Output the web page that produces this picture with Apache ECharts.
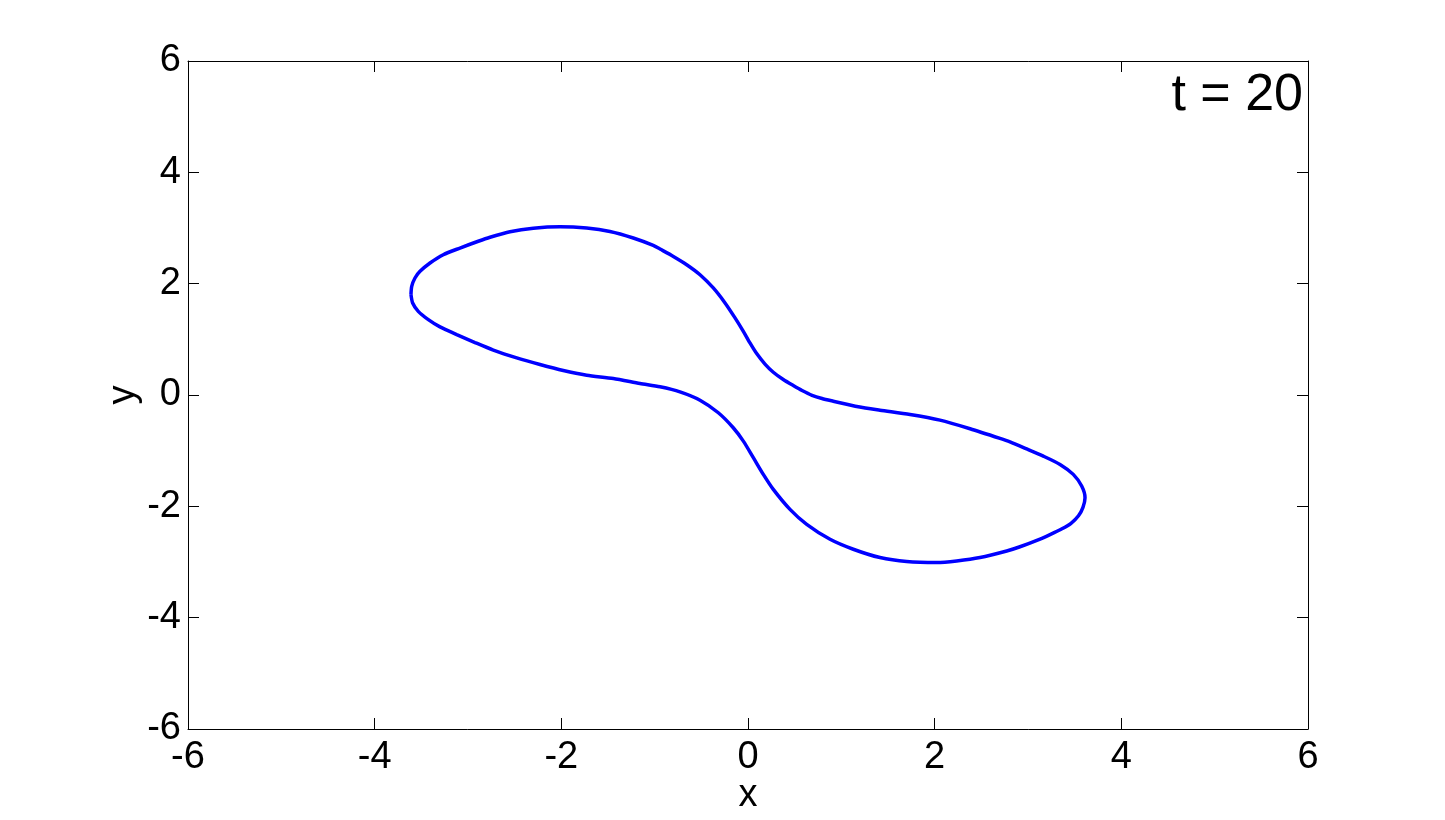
<!DOCTYPE html>
<html>
<head>
<meta charset="utf-8">
<title>t = 20</title>
<script src="https://cdn.jsdelivr.net/npm/echarts@6/dist/echarts.min.js"></script>
<style>
  html, body { margin: 0; padding: 0; background: #fff; }
  #chart { width: 1445px; height: 820px; }
</style>
</head>
<body>
<div id="chart"></div>
<script>
// curve, going clockwise from the leftmost point
const curveX = [
  -3.611, -3.603, -3.568, -3.514, -3.407, -3.265, -3.086, -2.890, -2.764, -2.550,
  -2.300, -2.014, -1.728, -1.479, -1.229, -1.015, -0.943, -0.800, -0.657, -0.514,
  -0.372, -0.246, -0.139, -0.050, 0.021, 0.093, 0.182, 0.271, 0.378, 0.485,
  0.579, 0.686, 0.793, 0.914, 1.182, 1.414, 1.736, 2.057, 2.379, 2.700,
  2.807, 2.986, 3.164, 3.343, 3.485, 3.575, 3.611, 3.589, 3.541, 3.461,
  3.364, 3.236, 3.129, 2.914, 2.772, 2.486, 2.236, 2.022, 1.700, 1.414,
  1.128, 0.879, 0.629, 0.450, 0.271, 0.164, 0.057, -0.050, -0.158, -0.318,
  -0.514, -0.729, -0.943, -1.157, -1.443, -1.728, -1.979, -2.229, -2.478, -2.729,
  -2.925, -3.121, -3.300, -3.425, -3.533, -3.593, -3.611
]
const curveY = [
  1.803, 1.952, 2.102, 2.221, 2.371, 2.520, 2.640, 2.762, 2.834, 2.933,
  2.996, 3.022, 2.999, 2.938, 2.820, 2.687, 2.622, 2.490, 2.341, 2.161,
  1.923, 1.654, 1.385, 1.144, 0.936, 0.744, 0.556, 0.409, 0.278, 0.170,
  0.081, -0.005, -0.063, -0.111, -0.212, -0.273, -0.350, -0.452, -0.606, -0.780,
  -0.843, -0.969, -1.098, -1.247, -1.426, -1.636, -1.844, -2.018, -2.170, -2.305,
  -2.404, -2.508, -2.588, -2.726, -2.802, -2.920, -2.981, -3.010, -2.992, -2.920,
  -2.771, -2.592, -2.323, -2.054, -1.695, -1.426, -1.126, -0.829, -0.588, -0.319,
  -0.093, 0.057, 0.147, 0.206, 0.296, 0.355, 0.439, 0.547, 0.667, 0.807,
  0.942, 1.085, 1.223, 1.354, 1.503, 1.654, 1.803
]
const xTicks = [-6, -4, -2, 0, 2, 4, 6]
const yTicks = [-6, -4, -2, 0, 2, 4, 6]
const timeLabel = 't = 20'

const chart = echarts.init(document.getElementById('chart'))

const font = 'Liberation Sans, Arial, sans-serif'
const axisBase = {
  type: 'value',
  interval: 2,
  axisLine: { show: true, onZero: false, lineStyle: { color: '#000', width: 1 } },
  axisTick: { show: true, inside: true, length: 11, lineStyle: { color: '#000', width: 1 } },
  splitLine: { show: false }
}

const points = curveX.map((x, i) => [x, curveY[i]])

chart.setOption({
  animation: false,
  backgroundColor: '#fff',
  title: {
    text: timeLabel,
    right: 137,
    top: 65,
    textStyle: { fontFamily: font, fontSize: 52, fontWeight: 'normal', color: '#000' }
  },
  grid: { left: 188, top: 61, width: 1120, height: 669, containLabel: false },
  xAxis: [
    {
      ...axisBase,
      position: 'bottom',
      min: xTicks[0],
      max: xTicks[xTicks.length - 1],
      name: 'x',
      nameLocation: 'middle',
      nameGap: 48,
      nameMoveOverlap: false,
      nameTextStyle: { fontFamily: font, fontSize: 38, color: '#000' },
      axisLabel: { margin: 10, fontFamily: font, fontSize: 38, color: '#000' }
    },
    {
      ...axisBase,
      position: 'top',
      min: xTicks[0],
      max: xTicks[xTicks.length - 1],
      axisLabel: { show: false }
    }
  ],
  yAxis: [
    {
      ...axisBase,
      position: 'left',
      min: yTicks[0],
      max: yTicks[yTicks.length - 1],
      name: 'y',
      nameLocation: 'middle',
      nameGap: 45,
      nameMoveOverlap: false,
      nameTextStyle: { fontFamily: font, fontSize: 38, color: '#000' },
      axisLabel: { margin: 7, fontFamily: font, fontSize: 38, color: '#000' }
    },
    {
      ...axisBase,
      position: 'right',
      min: yTicks[0],
      max: yTicks[yTicks.length - 1],
      axisLabel: { show: false }
    }
  ],
  series: [
    {
      type: 'line',
      data: points,
      showSymbol: false,
      smooth: 0.25,
      lineStyle: { color: '#0000ff', width: 3.5 },
      itemStyle: { color: '#0000ff' }
    }
  ]
})

window.addEventListener('resize', () => chart.resize())
</script>
</body>
</html>
